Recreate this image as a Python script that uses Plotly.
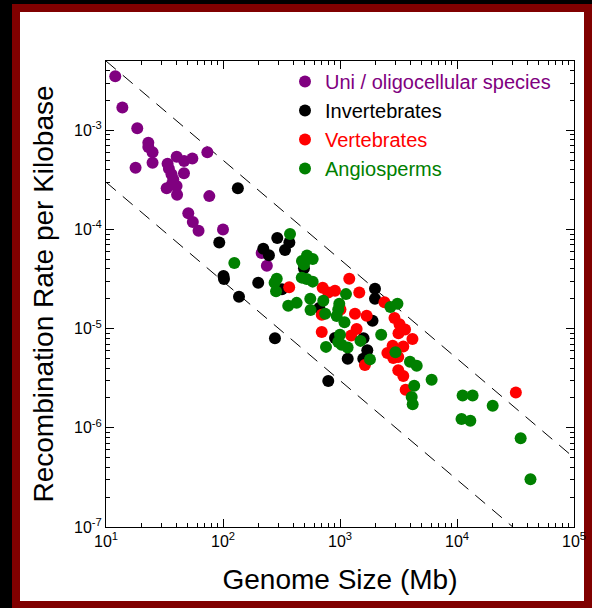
import plotly.graph_objects as go

# ---------------- data ----------------
uni_size = [12.0, 13.8, 18.5, 23.0, 23.0, 25.0, 25.0, 17.9, 40.2, 46.5, 54.7, 73.5, 33.6, 34.5,
            46.4, 36.3, 37.6, 36.5, 40.1, 33.0, 40.5, 76.4, 50.5, 55.2, 61.8, 100, 214, 237]
uni_rate = [3.5e-3, 1.7e-3, 1.05e-3, 7.5e-4, 6.8e-4, 6.0e-4, 4.7e-4, 4.2e-4, 5.4e-4, 4.9e-4,
            5.2e-4, 6.0e-4, 4.6e-4, 4.1e-4, 3.7e-4, 3.6e-4, 3.2e-4, 2.85e-4, 2.75e-4, 2.6e-4,
            2.24e-4, 2.17e-4, 1.46e-4, 1.19e-4, 9.7e-5, 1.0e-4, 5.8e-5, 4.3e-5]

inv_size = [134, 92.9, 101, 102, 137, 278, 200, 221, 247, 291, 339, 369, 319, 492, 1991, 1991,
            1897, 665, 1590, 906, 1711, 1581, 1164, 794]
inv_rate = [2.6e-4, 7.4e-5, 3.4e-5, 3.16e-5, 2.1e-5, 8.0e-6, 2.9e-5, 6.4e-5, 5.5e-5, 8.2e-5,
            6.2e-5, 7.4e-5, 2.5e-5, 4.06e-5, 2.52e-5, 2.0e-5, 1.2e-5, 1.62e-5, 8.0e-6, 8.05e-6,
            6.07e-6, 4.96e-6, 4.96e-6, 2.97e-6]

vert_size = [368, 711, 794, 906, 1200, 1461, 698, 1009, 1343, 1690, 2399, 2922, 3228, 3597, 3162,
             4160, 2818, 3475, 2541, 2851, 3148, 1387, 1247, 698, 1633, 3148, 3475, 3640, 31840]
vert_rate = [2.62e-5, 2.58e-5, 2.32e-5, 2.41e-5, 3.18e-5, 2.31e-5, 1.38e-5, 1.56e-5, 1.41e-5,
             1.35e-5, 1.85e-5, 1.28e-5, 1.11e-5, 9.8e-6, 9.0e-6, 7.87e-6, 6.73e-6, 6.62e-6,
             5.69e-6, 5.06e-6, 5.18e-6, 9.93e-6, 8.53e-6, 9.23e-6, 4.3e-6, 3.81e-6, 3.34e-6,
             2.42e-6, 2.27e-6]

ang_size = [374, 125, 288, 276, 284, 361, 426, 473, 522, 584, 492, 471, 519, 584, 1125, 557, 720,
            986, 560, 747, 966, 937, 1092, 2698, 3097, 2249, 1000, 966, 1033, 1162, 759, 1496,
            1803, 2979, 3963, 4526, 6070, 4306, 4100, 4181, 11170, 13600, 20180, 10930, 13000,
            35000, 42460]
ang_rate = [9.0e-5, 4.6e-5, 3.18e-5, 2.9e-5, 2.38e-5, 1.7e-5, 1.82e-5, 4.8e-5, 5.46e-5, 5.03e-5,
            4.43e-5, 3.27e-5, 3.16e-5, 2.98e-5, 2.23e-5, 2.0e-5, 1.91e-5, 1.78e-5, 1.54e-5,
            1.41e-5, 1.56e-5, 1.34e-5, 1.16e-5, 1.65e-5, 1.78e-5, 8.7e-6, 8.7e-6, 7.35e-6, 6.9e-6,
            6.47e-6, 6.55e-6, 7.53e-6, 4.9e-6, 5.77e-6, 4.65e-6, 4.23e-6, 3.06e-6, 2.66e-6,
            2.05e-6, 1.73e-6, 2.12e-6, 2.12e-6, 1.67e-6, 1.23e-6, 1.18e-6, 7.87e-7, 3.03e-7]

# bounding lines: rate = coef / genome size
line_size = [10, 1e5]
upper_coef = 0.05
lower_coef = 0.003

x_tickvals = [1e1, 1e2, 1e3, 1e4, 1e5]
x_ticktext = ["10<sup>1</sup>", "10<sup>2</sup>", "10<sup>3</sup>", "10<sup>4</sup>", "10<sup>5</sup>"]
y_tickvals = [1e-7, 1e-6, 1e-5, 1e-4, 1e-3]
y_ticktext = ["10<sup>-7</sup>", "10<sup>-6</sup>", "10<sup>-5</sup>", "10<sup>-4</sup>", "10<sup>-3</sup>"]

x_minor = [k * 10 ** e for e in range(1, 5) for k in range(2, 10)]
y_minor = [k * 10.0 ** e for e in range(-7, -2) for k in range(2, 10)]

series = [
    ("Uni / oligocellular species", uni_size, uni_rate, "#800080"),
    ("Invertebrates", inv_size, inv_rate, "#000000"),
    ("Vertebrates", vert_size, vert_rate, "#FF0000"),
    ("Angiosperms", ang_size, ang_rate, "#008000"),
]

fig = go.Figure()

for coef in (upper_coef, lower_coef):
    fig.add_trace(go.Scatter(
        x=line_size, y=[coef / s for s in line_size], mode="lines",
        line=dict(color="black", width=1, dash="13px,9px"),
        showlegend=False, hoverinfo="skip"))

for name, xs, ys, col in series:
    fig.add_trace(go.Scatter(
        x=xs, y=ys, mode="markers",
        name='<span style="color:%s">%s</span>' % (col, name),
        marker=dict(color=col, size=12, line=dict(width=0))))

W, H = 592, 608
L, R, T, B = 106, 18, 61, 81
pw, ph = W - L - R, H - T - B


def px(xp):
    return (xp - L) / pw


def py(yp):
    return (H - B - yp) / ph


fig.update_layout(
    width=W, height=H, autosize=False,
    margin=dict(l=L, r=R, t=T, b=B, pad=0, autoexpand=False),
    paper_bgcolor="black",
    plot_bgcolor="white",
    font=dict(family="Liberation Sans, Arial, sans-serif", color="black"),
    showlegend=True,
    legend=dict(x=px(285), y=py(62), xanchor="left", yanchor="top",
                bgcolor="rgba(0,0,0,0)", font=dict(size=20), itemsizing="trace"),
    shapes=[
        dict(type="rect", xref="paper", yref="paper", layer="below",
             x0=px(12), x1=px(592), y0=py(608), y1=py(4),
             fillcolor="#800000", line=dict(width=0)),
        dict(type="rect", xref="paper", yref="paper", layer="below",
             x0=px(20), x1=px(584), y0=py(601), y1=py(12),
             fillcolor="white", line=dict(width=0)),
    ],
)

axis_common = dict(
    type="log", showgrid=False, zeroline=False, automargin=False,
    showline=True, linecolor="black", linewidth=1, mirror="allticks",
    ticks="inside", ticklen=8, tickwidth=1, tickcolor="black",
    tickfont=dict(size=16, color="black"),
)

fig.update_xaxes(
    **axis_common, range=[1, 5], tickmode="array", tickvals=x_tickvals, ticktext=x_ticktext,
    minor=dict(tickmode="array", tickvals=x_minor, ticks="inside", ticklen=4,
               tickcolor="black", tickwidth=1, showgrid=False),
    title=dict(text="Genome Size (Mb)", font=dict(size=28, color="black"), standoff=20),
)
fig.update_yaxes(
    **axis_common, range=[-7, -2.301], tickmode="array", tickvals=y_tickvals, ticktext=y_ticktext,
    minor=dict(tickmode="array", tickvals=y_minor, ticks="inside", ticklen=4,
               tickcolor="black", tickwidth=1, showgrid=False),
    title=dict(text="Recombination Rate per Kilobase", font=dict(size=28, color="black"), standoff=12),
)

fig.write_html(
    "out.html",
    config={"displayModeBar": False, "responsive": False},
    post_script=(
        "document.documentElement.style.overflow='hidden';"
        "document.documentElement.style.background='black';"
        "document.body.style.margin='0';"
        "document.body.style.overflow='hidden';"
        "document.body.style.background='black';"
    ),
)
